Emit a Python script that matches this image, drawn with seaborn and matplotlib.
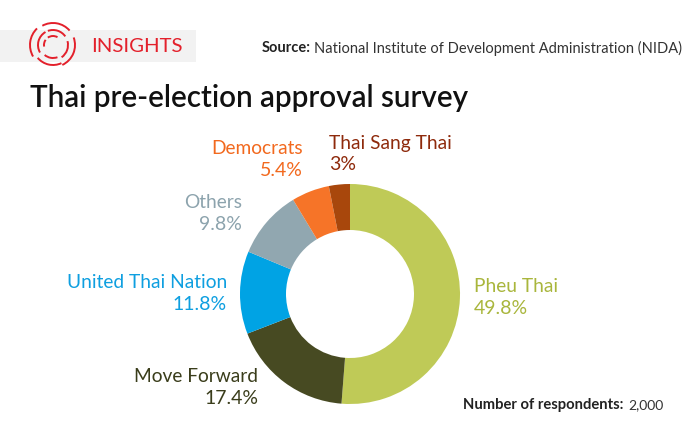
import matplotlib
matplotlib.use("Agg")
import matplotlib.pyplot as plt
from matplotlib.patches import Arc, Rectangle
import seaborn as sns

parties = ["Pheu Thai", "Move Forward", "United Thai Nation", "Others", "Democrats", "Thai Sang Thai"]
shares = [49.8, 17.4, 11.8, 9.8, 5.4, 3]
share_labels = ["49.8%", "17.4%", "11.8%", "9.8%", "5.4%", "3%"]
wedge_colors = ["#BFCA57", "#474A22", "#00A3E4", "#91A7B0", "#F67428", "#A8470C"]
text_colors = ["#A9B63C", "#3A3D1B", "#0E9FE0", "#8CA3AD", "#F2691E", "#8E2A0C"]

sns.set_theme(style="white")
plt.rcParams["font.family"] = ["Lato", "DejaVu Sans"]

W, H = 700, 432
fig = plt.figure(figsize=(W / 100, H / 100), dpi=100, facecolor="white")

ov = fig.add_axes([0, 0, 1, 1])
ov.set_xlim(0, W)
ov.set_ylim(H, 0)
ov.axis("off")

ov.add_patch(Rectangle((0, 30), 196, 32, facecolor="#F2F2F2", edgecolor="none"))
red = "#E3202B"
# y axis is inverted, so Arc angles run clockwise on screen
logo_arcs = [
    (23, 150, 226), (22, 241, 319), (22, -20, 65), (20, 65, 140),
    (15, 150, 240), (15, 250, 325), (15, -15, 55), (13, 70, 130),
    (9, 235, 300), (9, 170, 215),
]
for r, a, b in logo_arcs:
    ov.add_patch(Arc((53, 45), 2 * r, 2 * r, theta1=a, theta2=b, color=red, lw=1.4))
ov.text(91, 46, "INSIGHTS", color=red, fontsize=14.7, va="center", ha="left")

ov.text(262, 48, "Source:", color="#222222", fontsize=10.5, fontweight="bold", va="center")
ov.text(314, 48, "National Institute of Development Administration (NIDA)",
        color="#333333", fontsize=10.5, va="center")
ov.text(30, 98, "Thai pre-election approval survey", color="#111111", fontsize=21.3,
        fontweight="semibold", va="center")
ov.text(463, 405, "Number of respondents:", color="#222222", fontsize=10.6, fontweight="bold", va="center")
ov.text(628, 405, "2,000", color="#333333", fontsize=10, va="center")

positions = [(474, 286, "left"), (258, 376, "right"), (227, 283, "right"),
             (242, 202, "right"), (303, 149, "right"), (329, 143, "left")]
for name, lab, col, (x, y, ha) in zip(parties, share_labels, text_colors, positions):
    ov.text(x, y, name, color=col, fontsize=13.8, ha=ha, va="center")
    ov.text(x, y + 22, lab, color=col, fontsize=14, ha=ha, va="center")

ax = fig.add_axes([240 / W, (H - 404) / H, 220 / W, 220 / H])
ax.pie(shares, colors=wedge_colors, startangle=90, counterclock=False, radius=1,
       wedgeprops=dict(width=1 - 64 / 110, edgecolor="none"))
ax.set_xlim(-1, 1)
ax.set_ylim(-1, 1)
ax.patch.set_alpha(0)

fig.savefig("out.png", dpi=100)
